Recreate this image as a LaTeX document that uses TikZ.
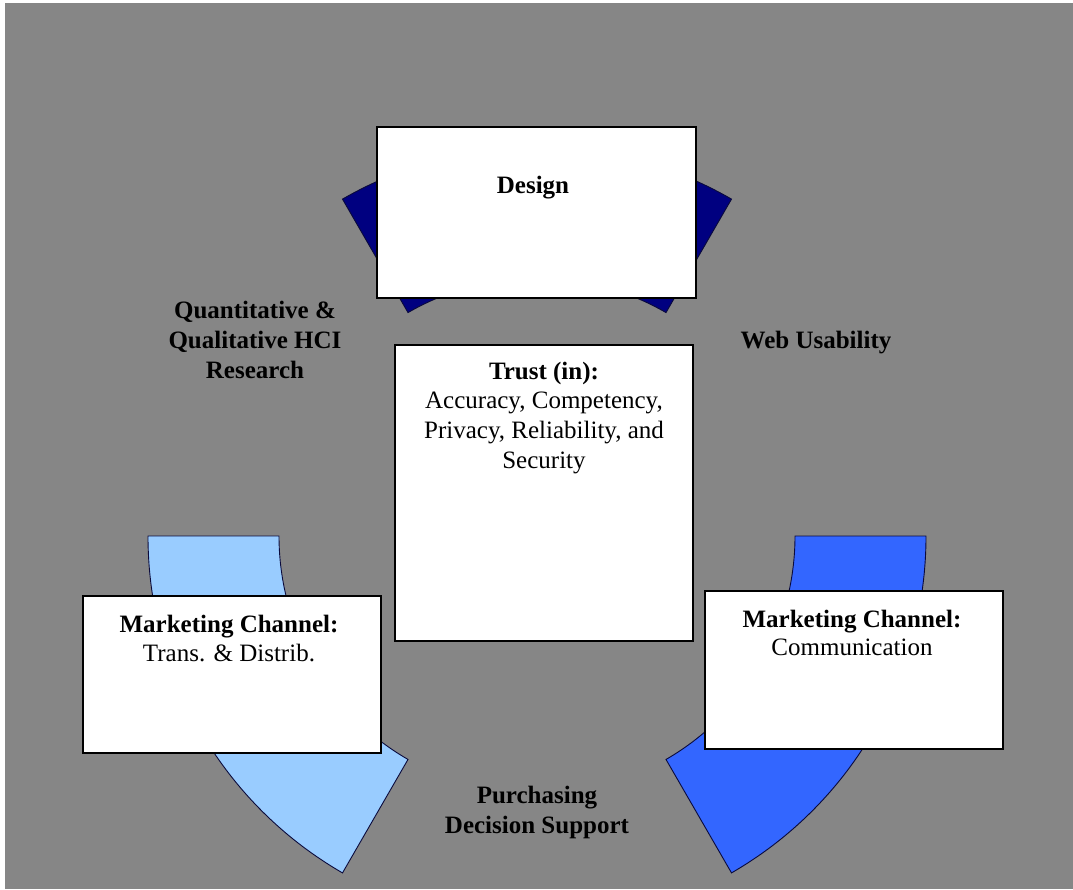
\documentclass[tikz,border=0pt]{standalone}
\usepackage{fontspec}
\setmainfont{Liberation Serif}
\usetikzlibrary{calc}
\definecolor{bg}{RGB}{134,134,134}
\definecolor{darkarc}{RGB}{0,0,128}
\definecolor{lightarc}{RGB}{153,204,255}
\definecolor{midarc}{RGB}{51,102,255}
\definecolor{edge}{RGB}{10,10,60}
\begin{document}
\begin{tikzpicture}[x=1pt,y=-1pt,
  card/.style={draw=black, line width=1.4pt, fill=white, inner sep=0pt},
  band/.style={draw=edge, line width=0.9pt},
  ttl/.style={font=\fontsize{25}{30}\selectfont\bfseries, align=center, inner sep=0pt, anchor=base},
  body/.style={font=\fontsize{25}{30}\selectfont, align=center, inner sep=0pt, anchor=base}]
\useasboundingbox (0,0) rectangle (1073,889);
\fill[white] (0,0) rectangle (1073,889);
\fill[bg] (5,3) rectangle (1073,889);
\coordinate (c) at (537,536);

% circular bands
\filldraw[band, fill=darkarc] ($(c)+(240:389)$) arc[start angle=240,end angle=300,radius=389]
  -- ($(c)+(300:258)$) arc[start angle=300,end angle=240,radius=258] -- cycle;
\filldraw[band, fill=lightarc] ($(c)+(120:389)$) arc[start angle=120,end angle=180,radius=389]
  -- ($(c)+(180:258)$) arc[start angle=180,end angle=120,radius=258] -- cycle;
\filldraw[band, fill=midarc] ($(c)+(0:389)$) arc[start angle=0,end angle=60,radius=389]
  -- ($(c)+(60:258)$) arc[start angle=60,end angle=0,radius=258] -- cycle;

% boxes
\node[card, minimum width=319pt, minimum height=171pt] (design) at (536.5,212.5) {};
\node[card, minimum width=298pt, minimum height=296pt] (trust) at (544,493) {};
\node[card, minimum width=298pt, minimum height=157pt] (mcleft) at (232,674.5) {};
\node[card, minimum width=298pt, minimum height=158pt] (mcright) at (854,670) {};

% texts (anchor base = baseline of the last line)
\node[ttl] (tdesign) at (533,193) {Design};
\node[ttl] (tquant) at (255,378) {Quantitative \&\\Qualitative HCI\\Research};
\node[ttl] (tweb) at (816,348) {Web Usability};
\node[ttl] (ttrust) at (544,379) {Trust (in):};
\node[body] (ttrustb) at (544,468) {Accuracy, Competency,\\Privacy, Reliability, and\\Security};
\node[ttl] (tmcl) at (229,632) {Marketing Channel:};
\node[body] (tmclb) at (229,661) {Trans. \& Distrib.};
\node[ttl] (tmcr) at (852,627) {Marketing Channel:};
\node[body] (tmcrb) at (852,655) {Communication};
\node[ttl] (tpurch) at (537,833) {Purchasing\\Decision Support};
\end{tikzpicture}
\end{document}
